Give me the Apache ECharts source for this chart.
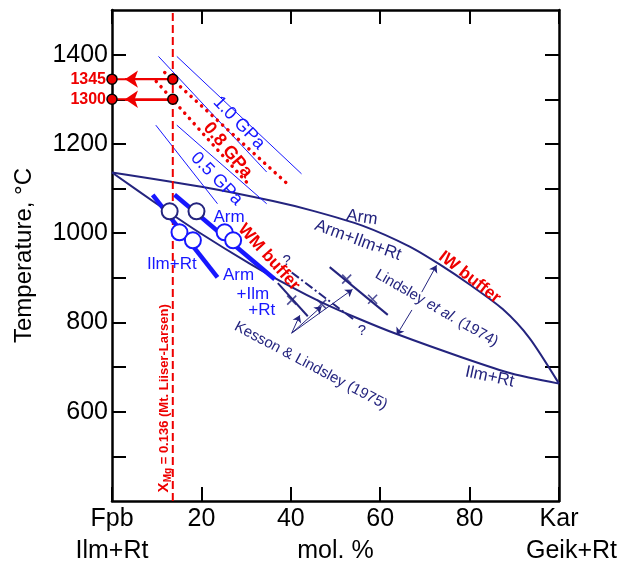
<!DOCTYPE html>
<html>
<head>
<meta charset="utf-8">
<script src="https://cdn.jsdelivr.net/npm/echarts@6/dist/echarts.min.js"></script>
<style>
html, body { margin: 0; padding: 0; background: #fff; }
#chart { width: 619px; height: 565px; }
</style>
</head>
<body>
<div id="chart"></div>
<script>
// axes
const yTicks = [500, 600, 700, 800, 900, 1000, 1100, 1200, 1300, 1400];
const yTickLabels = [600, 800, 1000, 1200, 1400];

const xMg = 13.6;
const meltT = [1345, 1300];

// phase boundaries (Lindsley et al. 1974)
const upperCurve = [[0, 1136], [20, 1104], [36, 1072], [45, 1050], [56, 1017], [66.6, 970],
    [73.3, 930], [80, 885], [87.4, 830], [93.4, 765], [100, 663]];
const lowerCurve = [[0, 1136], [10.7, 1061], [19.6, 1001], [30.8, 932], [40.2, 879], [46.9, 845],
    [54.8, 810], [63.7, 774], [78.5, 721], [89.6, 685], [100, 663]];

// pressure isopleths
const gpa10a = [[14.5, 1396], [42.4, 1133]];
const gpa10b = [[10.4, 1396], [34.6, 1137]];
const gpa08a = [[11.8, 1360], [39.3, 1110]];
const gpa08b = [[9.9, 1340], [30.4, 1111]];
const gpa05a = [[9.8, 1242], [23.6, 1066]];
const gpa05b = [[14.5, 1242], [34.6, 1066]];

// WM buffer experiments
const wmLeft = [[9.1, 1086], [23.6, 901]];
const wmRight = [[14.0, 1086], [36.4, 897]];
const runs1050 = [[12.9, 1049], [18.9, 1049]];
const runsBlue = [[15.1, 1002], [18.1, 984], [25.2, 1002], [27.1, 984]];

// Kesson & Lindsley (1975)
const kessonShort = [[37.1, 888], [43.8, 814]];
const kessonDashed = [[40.2, 912], [54.3, 805]];
const kessonRight = [[48.7, 924], [61.7, 817]];
const kessonCrosses = [[40.2, 850], [46.9, 841], [52.5, 897], [58.3, 852]];
const kessonFrom = [40.2, 776];
const kessonTo = [[42.0, 816], [46.9, 836], [53.8, 874]];
const lindsleyArrows = [[[69.3, 868], [72.6, 928]], [[67.1, 828], [63.7, 772]]];

const NAVY = '#24247e';
const BLUE = '#1717ff';
const RED = '#ee0000';
const FONT = '"Liberation Sans", Arial, sans-serif';

function seg(data, color, width, type, z) {
    return {
        type: 'line', data: data, showSymbol: false, symbol: 'none', silent: true, clip: false,
        lineStyle: { color: color, width: width, type: type || 'solid' }, z: z || 2
    };
}

const series = [];
series.push(Object.assign(seg(upperCurve, NAVY, 2), { smooth: 0.25 }));
series.push(Object.assign(seg(lowerCurve, NAVY, 2), { smooth: 0.25 }));

[gpa10a, gpa10b, gpa05a, gpa05b].forEach(d => series.push(seg(d, BLUE, 1)));
[gpa08a, gpa08b].forEach(d => {
    const s = seg(d, RED, 3.5, [0.1, 7]);
    s.lineStyle.cap = 'round';
    series.push(s);
});

series.push(seg([[xMg, 400], [xMg, 1500]], RED, 2, [8, 4], 3));

[wmLeft, wmRight].forEach(d => series.push(seg(d, BLUE, 4.5, 'solid', 3)));
series.push(seg(kessonShort, NAVY, 2));
series.push(seg(kessonRight, NAVY, 2));
series.push(seg(kessonDashed, NAVY, 2, [9, 3, 2, 3]));

meltT.forEach(t => series.push(seg([[xMg, t], [0, t]], RED, 2, 'solid', 6)));
series.push({
    type: 'lines', coordinateSystem: 'cartesian2d', silent: true, z: 6,
    symbol: ['none', 'arrow'], symbolSize: 13,
    lineStyle: { color: RED, width: 2, opacity: 1 },
    data: meltT.map(t => ({ coords: [[xMg, t], [2.9, t]] }))
});

series.push({
    type: 'lines', coordinateSystem: 'cartesian2d', silent: true, z: 4,
    symbol: ['none', 'arrow'], symbolSize: 7,
    lineStyle: { color: NAVY, width: 1, opacity: 1 },
    data: kessonTo.map(p => ({ coords: [kessonFrom, p] })).concat(lindsleyArrows.map(c => ({ coords: c })))
});

series.push({
    type: 'scatter', data: kessonCrosses, clip: false, silent: true, z: 5,
    symbol: 'path://M0,0L10,10M10,0L0,10', symbolSize: 9,
    itemStyle: { color: 'none', borderColor: NAVY, borderWidth: 1.6 }
});
series.push({
    type: 'scatter', data: runs1050, clip: false, silent: true, z: 5, symbolSize: 16,
    itemStyle: { color: '#fff', borderColor: NAVY, borderWidth: 2, opacity: 1 }
});
series.push({
    type: 'scatter', data: runsBlue, clip: false, silent: true, z: 5, symbolSize: 16,
    itemStyle: { color: '#fff', borderColor: BLUE, borderWidth: 2, opacity: 1 }
});
series.push({
    type: 'scatter', clip: false, silent: true, z: 10, symbolSize: 10,
    data: meltT.map(t => [0, t]).concat(meltT.map(t => [xMg, t])),
    itemStyle: { color: RED, borderColor: '#000', borderWidth: 1.5, opacity: 1 }
});

const axisLine = { onZero: false, lineStyle: { color: '#000', width: 2.5 } };
const tick = { inside: true, length: 14, lineStyle: { color: '#000', width: 2 } };

const option = {
    animation: false,
    backgroundColor: '#fff',
    grid: { left: 112, top: 10, right: 60, bottom: 64, containLabel: false },
    xAxis: [{
        type: 'value', min: 0, max: 100, interval: 20, position: 'bottom',
        axisLine: axisLine, axisTick: tick, splitLine: { show: false },
        axisLabel: {
            margin: 6, fontSize: 25, color: '#000', fontFamily: FONT, showMinLabel: true, showMaxLabel: true,
            formatter: v => v === 0 ? 'Fpb' : (v === 100 ? 'Kar' : String(v))
        }
    }, {
        type: 'value', min: 0, max: 100, interval: 20, position: 'top',
        axisLine: axisLine, axisTick: tick, splitLine: { show: false }, axisLabel: { show: false }
    }],
    yAxis: [{
        type: 'value', min: 400, max: 1500, position: 'left',
        axisLine: axisLine, splitLine: { show: false },
        axisTick: Object.assign({ customValues: yTicks }, tick),
        axisLabel: {
            customValues: yTickLabels, margin: 4, fontSize: 25, color: '#000', fontFamily: FONT,
            formatter: v => String(v)
        },
        name: 'Temperature, °C', nameLocation: 'middle', nameRotate: 90, nameGap: 76,
        nameTextStyle: { fontSize: 24, color: '#000', fontFamily: FONT }
    }, {
        type: 'value', min: 400, max: 1500, position: 'right',
        axisLine: axisLine, splitLine: { show: false },
        axisTick: Object.assign({ customValues: yTicks }, tick),
        axisLabel: { show: false }
    }],
    series: series
};

const chart = echarts.init(document.getElementById('chart'));
chart.setOption(option);

function px(p) {
    return chart.convertToPixel({ xAxisIndex: 0, yAxisIndex: 0 }, p);
}

/* annotations: text, anchor in data units, rotation (deg, negative = clockwise), colour, size, weight */
const notes = [
    ['1.0 GPa', [28.4, 1247], -46, BLUE, 18, 'normal'],
    ['0.8 GPa', [25.9, 1186], -50, RED, 18, 'bold'],
    ['0.5 GPa', [23.4, 1122], -46, BLUE, 18, 'normal'],
    ['WM buffer', [35.1, 946], -48, RED, 17, 'bold'],
    ['IW buffer', [80.0, 901], -38, RED, 17, 'bold'],
    ['Arm', [55.9, 1035], -8, NAVY, 17, 'normal'],
    ['Arm+Ilm+Rt', [55.0, 984], -20, NAVY, 17, 'normal'],
    ['Ilm+Rt', [84.5, 678], -12, NAVY, 17, 'normal'],
    ['Kesson & Lindsley (1975)', [44.5, 703], -28, NAVY, 15, 'normal'],
    ['?', [39.1, 939], 0, NAVY, 15, 'normal'],
    ['?', [55.9, 781], 0, NAVY, 15, 'normal'],
    ['Arm', [26.2, 1035], 0, BLUE, 17, 'normal'],
    ['Ilm+Rt', [13.4, 930], 0, BLUE, 17, 'normal'],
    ['Arm', [28.3, 906], 0, BLUE, 17, 'normal'],
    ['+Ilm', [31.5, 863], 0, BLUE, 17, 'normal'],
    ['+Rt', [33.5, 828], 0, BLUE, 17, 'normal']
];

const graphic = notes.map(n => {
    const p = px(n[1]);
    return {
        type: 'text', x: p[0], y: p[1], rotation: n[2] * Math.PI / 180, z: 20, silent: true,
        style: {
            text: n[0], fill: n[3], fontSize: n[4], fontWeight: n[5], fontFamily: FONT,
            align: 'center', verticalAlign: 'middle'
        }
    };
});

const pl = px([72.6, 832]);
graphic.push({
    type: 'text', x: pl[0], y: pl[1], rotation: -30 * Math.PI / 180, z: 20, silent: true,
    style: {
        text: '{n|Lindsley }{i|et al.}{n| (1974)}', align: 'center', verticalAlign: 'middle',
        rich: {
            n: { fontSize: 15, fill: NAVY, fontFamily: FONT },
            i: { fontSize: 15, fill: NAVY, fontFamily: FONT, fontStyle: 'italic' }
        }
    }
});

const pm = px([11.25, 630]);
graphic.push({
    type: 'text', x: pm[0] + 2, y: pm[1], rotation: Math.PI / 2, z: 20, silent: true,
    style: {
        text: '{a|X}{b|Mg}{c| = 0.136 (Mt. Liiser-Larsen)}', align: 'center', verticalAlign: 'middle',
        rich: {
            a: { fontSize: 15, fontWeight: 'bold', fill: RED, fontFamily: FONT },
            b: { fontSize: 10, fontWeight: 'bold', fill: RED, fontFamily: FONT, padding: [7, 0, 0, 0] },
            c: { fontSize: 13, fontWeight: 'bold', fill: RED, fontFamily: FONT }
        }
    }
});

meltT.forEach(t => {
    const p = px([0, t]);
    graphic.push({
        type: 'text', x: p[0] - 6, y: p[1], z: 20, silent: true,
        style: {
            text: String(t), fill: RED, fontSize: 16, fontWeight: 'bold', fontFamily: FONT,
            align: 'right', verticalAlign: 'middle'
        }
    });
});

// second row under the x axis
[[0, 'Ilm+Rt', 'center'], [50, 'mol. %', 'center']].forEach(r => {
    const p = px([r[0], 400]);
    graphic.push({
        type: 'text', x: p[0], y: 551, z: 20, silent: true,
        style: { text: r[1], fill: '#000', fontSize: 25, fontFamily: FONT, align: r[2], verticalAlign: 'middle' }
    });
});
graphic.push({
    type: 'text', x: 617, y: 551, z: 20, silent: true,
    style: { text: 'Geik+Rt', fill: '#000', fontSize: 25, fontFamily: FONT, align: 'right', verticalAlign: 'middle' }
});

chart.setOption({ graphic: graphic });
</script>
</body>
</html>
